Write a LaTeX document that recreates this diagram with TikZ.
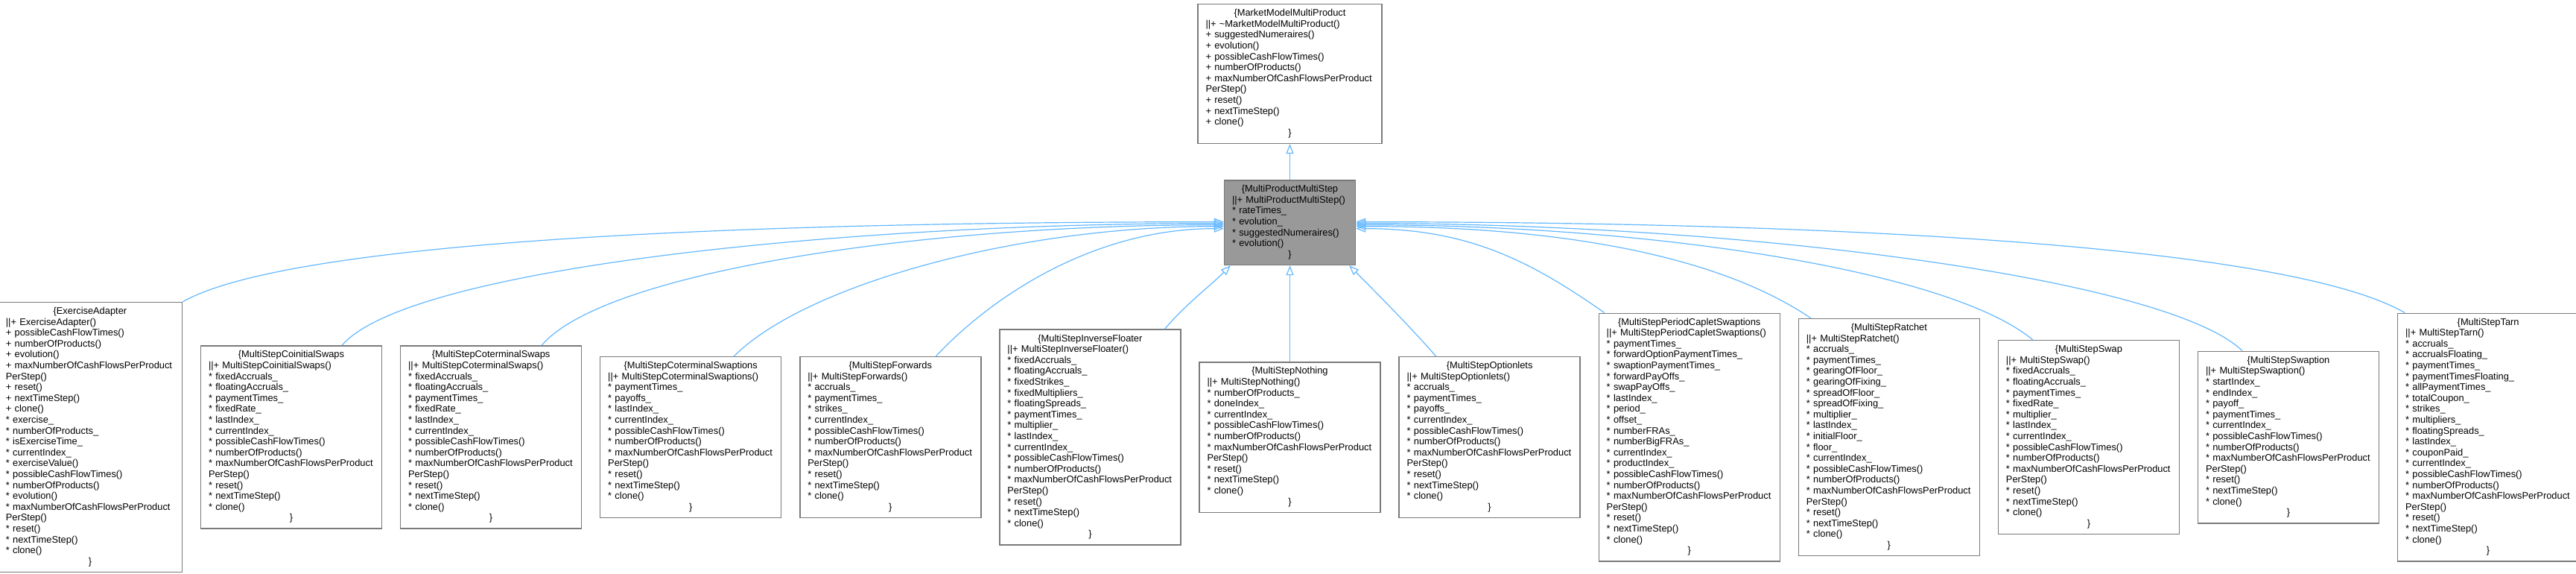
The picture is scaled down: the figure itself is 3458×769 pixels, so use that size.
\documentclass[tikz,border=0pt]{standalone}
\usepackage{fontspec}
\setmainfont{Liberation Sans}
\usetikzlibrary{arrows.meta,positioning}
\definecolor{ink}{HTML}{000000}
\definecolor{frame}{HTML}{7A7A7A}
\definecolor{selfill}{HTML}{999999}
\definecolor{edgeblue}{HTML}{63B8FF}
\newcommand{\classhead}[1]{\makebox[\linewidth]{\strut\{#1}}
\newcommand{\classend}{\makebox[\linewidth]{\strut\}}}
\tikzset{
  every node/.style={font=\fontsize{12.85pt}{14.6pt}\selectfont, text=ink},
  cls/.style={rectangle, draw=frame, fill=white, line width=1.4pt, align=left, text width=222pt, inner xsep=10.5pt, inner ysep=5.75pt},
  wide/.style={cls, text width=226pt},
  cur/.style={cls, fill=selfill, text width=155pt},
  inh/.style={draw=edgeblue, line width=1.2pt, -{Triangle[open, length=13pt, width=10pt]}},
}
\begin{document}
\begin{tikzpicture}[x=1pt, y=1pt, node distance=23.7pt]
  \useasboundingbox[fill=white] (0,0) rectangle (3458,-769);

  % ---- base classes -------------------------------------------------------
  \node[wide, anchor=north] (mm) at (1731.5,-5) {\classhead{MarketModelMultiProduct}\\
    ||+ \textasciitilde MarketModelMultiProduct()\\
    + suggestedNumeraires()\\
    + evolution()\\
    + possibleCashFlowTimes()\\
    + numberOfProducts()\\
    + maxNumberOfCashFlowsPerProduct\\
    PerStep()\\
    + reset()\\
    + nextTimeStep()\\
    + clone()\\
    \classend};
  \node[cur, below=48pt of mm] (mp) {\classhead{MultiProductMultiStep}\\
    ||+ MultiProductMultiStep()\\
    {*} rateTimes\_\\
    {*} evolution\_\\
    {*} suggestedNumeraires()\\
    {*} evolution()\\
    \classend};

  % ---- derived classes, left of centre -------------------------------------
  \node[cls, below=129pt of mp] (no) {\classhead{MultiStepNothing}\\
    ||+ MultiStepNothing()\\
    {*} numberOfProducts\_\\
    {*} doneIndex\_\\
    {*} currentIndex\_\\
    {*} possibleCashFlowTimes()\\
    {*} numberOfProducts()\\
    {*} maxNumberOfCashFlowsPerProduct\\
    PerStep()\\
    {*} reset()\\
    {*} nextTimeStep()\\
    {*} clone()\\
    \classend};
  \node[cls, left=of no] (io) {\classhead{MultiStepInverseFloater}\\
    ||+ MultiStepInverseFloater()\\
    {*} fixedAccruals\_\\
    {*} floatingAccruals\_\\
    {*} fixedStrikes\_\\
    {*} fixedMultipliers\_\\
    {*} floatingSpreads\_\\
    {*} paymentTimes\_\\
    {*} multiplier\_\\
    {*} lastIndex\_\\
    {*} currentIndex\_\\
    {*} possibleCashFlowTimes()\\
    {*} numberOfProducts()\\
    {*} maxNumberOfCashFlowsPerProduct\\
    PerStep()\\
    {*} reset()\\
    {*} nextTimeStep()\\
    {*} clone()\\
    \classend};
  \node[cls, left=of io] (fw) {\classhead{MultiStepForwards}\\
    ||+ MultiStepForwards()\\
    {*} accruals\_\\
    {*} paymentTimes\_\\
    {*} strikes\_\\
    {*} currentIndex\_\\
    {*} possibleCashFlowTimes()\\
    {*} numberOfProducts()\\
    {*} maxNumberOfCashFlowsPerProduct\\
    PerStep()\\
    {*} reset()\\
    {*} nextTimeStep()\\
    {*} clone()\\
    \classend};
  \node[cls, left=of fw] (cs) {\classhead{MultiStepCoterminalSwaptions}\\
    ||+ MultiStepCoterminalSwaptions()\\
    {*} paymentTimes\_\\
    {*} payoffs\_\\
    {*} lastIndex\_\\
    {*} currentIndex\_\\
    {*} possibleCashFlowTimes()\\
    {*} numberOfProducts()\\
    {*} maxNumberOfCashFlowsPerProduct\\
    PerStep()\\
    {*} reset()\\
    {*} nextTimeStep()\\
    {*} clone()\\
    \classend};
  \node[cls, left=of cs] (ct) {\classhead{MultiStepCoterminalSwaps}\\
    ||+ MultiStepCoterminalSwaps()\\
    {*} fixedAccruals\_\\
    {*} floatingAccruals\_\\
    {*} paymentTimes\_\\
    {*} fixedRate\_\\
    {*} lastIndex\_\\
    {*} currentIndex\_\\
    {*} possibleCashFlowTimes()\\
    {*} numberOfProducts()\\
    {*} maxNumberOfCashFlowsPerProduct\\
    PerStep()\\
    {*} reset()\\
    {*} nextTimeStep()\\
    {*} clone()\\
    \classend};
  \node[cls, left=of ct] (ci) {\classhead{MultiStepCoinitialSwaps}\\
    ||+ MultiStepCoinitialSwaps()\\
    {*} fixedAccruals\_\\
    {*} floatingAccruals\_\\
    {*} paymentTimes\_\\
    {*} fixedRate\_\\
    {*} lastIndex\_\\
    {*} currentIndex\_\\
    {*} possibleCashFlowTimes()\\
    {*} numberOfProducts()\\
    {*} maxNumberOfCashFlowsPerProduct\\
    PerStep()\\
    {*} reset()\\
    {*} nextTimeStep()\\
    {*} clone()\\
    \classend};
  \node[wide, left=of ci] (ea) {\classhead{ExerciseAdapter}\\
    ||+ ExerciseAdapter()\\
    + possibleCashFlowTimes()\\
    + numberOfProducts()\\
    + evolution()\\
    + maxNumberOfCashFlowsPerProduct\\
    PerStep()\\
    + reset()\\
    + nextTimeStep()\\
    + clone()\\
    {*} exercise\_\\
    {*} numberOfProducts\_\\
    {*} isExerciseTime\_\\
    {*} currentIndex\_\\
    {*} exerciseValue()\\
    {*} possibleCashFlowTimes()\\
    {*} numberOfProducts()\\
    {*} evolution()\\
    {*} maxNumberOfCashFlowsPerProduct\\
    PerStep()\\
    {*} reset()\\
    {*} nextTimeStep()\\
    {*} clone()\\
    \classend};

  % ---- derived classes, right of centre ------------------------------------
  \node[cls, right=of no] (ol) {\classhead{MultiStepOptionlets}\\
    ||+ MultiStepOptionlets()\\
    {*} accruals\_\\
    {*} paymentTimes\_\\
    {*} payoffs\_\\
    {*} currentIndex\_\\
    {*} possibleCashFlowTimes()\\
    {*} numberOfProducts()\\
    {*} maxNumberOfCashFlowsPerProduct\\
    PerStep()\\
    {*} reset()\\
    {*} nextTimeStep()\\
    {*} clone()\\
    \classend};
  \node[cls, right=of ol] (pc) {\classhead{MultiStepPeriodCapletSwaptions}\\
    ||+ MultiStepPeriodCapletSwaptions()\\
    {*} paymentTimes\_\\
    {*} forwardOptionPaymentTimes\_\\
    {*} swaptionPaymentTimes\_\\
    {*} forwardPayOffs\_\\
    {*} swapPayOffs\_\\
    {*} lastIndex\_\\
    {*} period\_\\
    {*} offset\_\\
    {*} numberFRAs\_\\
    {*} numberBigFRAs\_\\
    {*} currentIndex\_\\
    {*} productIndex\_\\
    {*} possibleCashFlowTimes()\\
    {*} numberOfProducts()\\
    {*} maxNumberOfCashFlowsPerProduct\\
    PerStep()\\
    {*} reset()\\
    {*} nextTimeStep()\\
    {*} clone()\\
    \classend};
  \node[cls, right=of pc] (ra) {\classhead{MultiStepRatchet}\\
    ||+ MultiStepRatchet()\\
    {*} accruals\_\\
    {*} paymentTimes\_\\
    {*} gearingOfFloor\_\\
    {*} gearingOfFixing\_\\
    {*} spreadOfFloor\_\\
    {*} spreadOfFixing\_\\
    {*} multiplier\_\\
    {*} lastIndex\_\\
    {*} initialFloor\_\\
    {*} floor\_\\
    {*} currentIndex\_\\
    {*} possibleCashFlowTimes()\\
    {*} numberOfProducts()\\
    {*} maxNumberOfCashFlowsPerProduct\\
    PerStep()\\
    {*} reset()\\
    {*} nextTimeStep()\\
    {*} clone()\\
    \classend};
  \node[cls, right=of ra] (sw) {\classhead{MultiStepSwap}\\
    ||+ MultiStepSwap()\\
    {*} fixedAccruals\_\\
    {*} floatingAccruals\_\\
    {*} paymentTimes\_\\
    {*} fixedRate\_\\
    {*} multiplier\_\\
    {*} lastIndex\_\\
    {*} currentIndex\_\\
    {*} possibleCashFlowTimes()\\
    {*} numberOfProducts()\\
    {*} maxNumberOfCashFlowsPerProduct\\
    PerStep()\\
    {*} reset()\\
    {*} nextTimeStep()\\
    {*} clone()\\
    \classend};
  \node[cls, right=of sw] (sn) {\classhead{MultiStepSwaption}\\
    ||+ MultiStepSwaption()\\
    {*} startIndex\_\\
    {*} endIndex\_\\
    {*} payoff\_\\
    {*} paymentTimes\_\\
    {*} currentIndex\_\\
    {*} possibleCashFlowTimes()\\
    {*} numberOfProducts()\\
    {*} maxNumberOfCashFlowsPerProduct\\
    PerStep()\\
    {*} reset()\\
    {*} nextTimeStep()\\
    {*} clone()\\
    \classend};
  \node[cls, right=of sn] (ta) {\classhead{MultiStepTarn}\\
    ||+ MultiStepTarn()\\
    {*} accruals\_\\
    {*} accrualsFloating\_\\
    {*} paymentTimes\_\\
    {*} paymentTimesFloating\_\\
    {*} allPaymentTimes\_\\
    {*} totalCoupon\_\\
    {*} strikes\_\\
    {*} multipliers\_\\
    {*} floatingSpreads\_\\
    {*} lastIndex\_\\
    {*} couponPaid\_\\
    {*} currentIndex\_\\
    {*} possibleCashFlowTimes()\\
    {*} numberOfProducts()\\
    {*} maxNumberOfCashFlowsPerProduct\\
    PerStep()\\
    {*} reset()\\
    {*} nextTimeStep()\\
    {*} clone()\\
    \classend};

  % ---- inheritance --------------------------------------------------------
  \draw[inh] (mp) -- (mm);
  \draw[inh] (ea.north east) .. controls +(150,85) and +(-600,0) .. ([yshift=1]mp.west);
  \draw[inh] ([xshift=68]ci.north) .. controls +(90,105) and +(-500,0) .. ([yshift=-1]mp.west);
  \draw[inh] ([xshift=68]ct.north) .. controls +(85,100) and +(-400,0) .. ([yshift=-3]mp.west);
  \draw[inh] ([xshift=58]cs.north) .. controls +(95,95) and +(-280,0) .. ([yshift=-5]mp.west);
  \draw[inh] ([xshift=61]fw.north) .. controls +(80,85) and +(-170,0) .. ([yshift=-8]mp.west);
  \draw[inh] ([xshift=100]io.north) .. controls +(30,35) and +(-30,-30) .. ([xshift=9]mp.south west);
  \draw[inh] (no) -- (mp);
  \draw[inh] ([xshift=-72]ol.north) .. controls +(-35,40) and +(35,-35) .. ([xshift=-9]mp.south east);
  \draw[inh] ([xshift=-114]pc.north) .. controls +(-100,70) and +(150,0) .. ([yshift=-8]mp.east);
  \draw[inh] ([xshift=-105]ra.north) .. controls +(-130,88) and +(260,0) .. ([yshift=-5]mp.east);
  \draw[inh] ([xshift=-75]sw.north) .. controls +(-110,92) and +(400,0) .. ([yshift=-3]mp.east);
  \draw[inh] ([xshift=-62]sn.north) .. controls +(-100,97) and +(520,0) .. ([yshift=-1]mp.east);
  \draw[inh] ([xshift=-112]ta.north) .. controls +(-160,92) and +(620,0) .. ([yshift=1]mp.east);
\end{tikzpicture}
\end{document}
